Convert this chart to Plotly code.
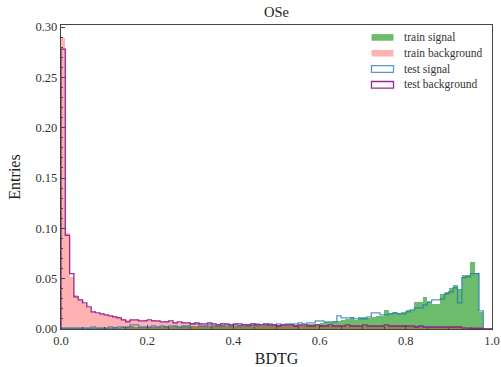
import numpy as np
import plotly.graph_objects as go

# BDTG response histograms, 100 bins of width 0.01 on [0, 1], normalised entries
bin_edges = np.round(np.linspace(0.0, 1.0, 101), 3)

train_signal = [
    0.001, 0.001, 0.001, 0.001, 0.001, 0.001, 0.001, 0.001, 0.001, 0.001,
    0.001, 0.001, 0.002, 0.001, 0.002, 0.002, 0.003, 0.002, 0.002, 0.002,
    0.002, 0.002, 0.002, 0.002, 0.003, 0.002, 0.003, 0.002, 0.003, 0.003,
    0.003, 0.003, 0.003, 0.003, 0.003, 0.003, 0.003, 0.004, 0.003, 0.003,
    0.003, 0.004, 0.003, 0.004, 0.004, 0.004, 0.003, 0.004, 0.004, 0.004,
    0.004, 0.004, 0.004, 0.005, 0.004, 0.004, 0.004, 0.005, 0.005, 0.005,
    0.006, 0.007, 0.007, 0.008, 0.008, 0.009, 0.010, 0.012, 0.009, 0.012,
    0.012, 0.011, 0.012, 0.013, 0.013, 0.019, 0.016, 0.017, 0.016, 0.017,
    0.019, 0.019, 0.027, 0.027, 0.032, 0.027, 0.025, 0.025, 0.035, 0.037,
    0.041, 0.044, 0.040, 0.054, 0.054, 0.067, 0.056, 0.017, 0.0, 0.0,
]

train_background = [
    0.289, 0.095, 0.052, 0.034, 0.029, 0.025, 0.021, 0.017, 0.015, 0.015,
    0.014, 0.013, 0.013, 0.012, 0.010, 0.009, 0.009, 0.009, 0.008, 0.009,
    0.008, 0.009, 0.008, 0.007, 0.008, 0.007, 0.007, 0.006, 0.007, 0.006,
    0.006, 0.005, 0.006, 0.005, 0.006, 0.005, 0.005, 0.006, 0.005, 0.005,
    0.005, 0.004, 0.005, 0.005, 0.004, 0.005, 0.004, 0.005, 0.004, 0.004,
    0.004, 0.004, 0.004, 0.003, 0.004, 0.004, 0.003, 0.004, 0.003, 0.003,
    0.004, 0.003, 0.003, 0.003, 0.003, 0.003, 0.003, 0.004, 0.003, 0.003,
    0.003, 0.003, 0.003, 0.003, 0.003, 0.003, 0.003, 0.003, 0.003, 0.003,
    0.003, 0.002, 0.003, 0.002, 0.002, 0.002, 0.002, 0.002, 0.002, 0.002,
    0.002, 0.002, 0.002, 0.002, 0.001, 0.001, 0.001, 0.001, 0.0, 0.0,
]

test_signal = [
    0.001, 0.001, 0.001, 0.001, 0.001, 0.001, 0.001, 0.002, 0.001, 0.001,
    0.001, 0.002, 0.001, 0.002, 0.002, 0.002, 0.004, 0.004, 0.002, 0.002,
    0.002, 0.003, 0.002, 0.003, 0.002, 0.003, 0.003, 0.002, 0.003, 0.003,
    0.005, 0.005, 0.003, 0.003, 0.004, 0.003, 0.003, 0.003, 0.004, 0.003,
    0.004, 0.003, 0.004, 0.003, 0.004, 0.005, 0.004, 0.004, 0.005, 0.004,
    0.005, 0.004, 0.005, 0.005, 0.005, 0.006, 0.005, 0.006, 0.006, 0.008,
    0.008, 0.007, 0.007, 0.007, 0.013, 0.011, 0.011, 0.011, 0.010, 0.010,
    0.010, 0.012, 0.016, 0.016, 0.014, 0.014, 0.015, 0.016, 0.015, 0.015,
    0.017, 0.019, 0.021, 0.021, 0.024, 0.027, 0.029, 0.029, 0.030, 0.035,
    0.037, 0.041, 0.026, 0.051, 0.052, 0.055, 0.055, 0.018, 0.0, 0.0,
]

test_background = [
    0.278, 0.093, 0.055, 0.032, 0.029, 0.026, 0.022, 0.017, 0.016, 0.015,
    0.014, 0.013, 0.012, 0.011, 0.009, 0.007, 0.009, 0.009, 0.008, 0.008,
    0.009, 0.008, 0.008, 0.007, 0.007, 0.008, 0.006, 0.007, 0.006, 0.006,
    0.005, 0.006, 0.005, 0.005, 0.006, 0.005, 0.004, 0.005, 0.005, 0.004,
    0.005, 0.005, 0.004, 0.004, 0.005, 0.004, 0.004, 0.005, 0.004, 0.004,
    0.003, 0.004, 0.004, 0.004, 0.003, 0.004, 0.004, 0.003, 0.003, 0.004,
    0.003, 0.003, 0.004, 0.003, 0.003, 0.003, 0.004, 0.003, 0.003, 0.003,
    0.004, 0.003, 0.003, 0.003, 0.003, 0.004, 0.003, 0.003, 0.003, 0.003,
    0.003, 0.003, 0.002, 0.003, 0.002, 0.002, 0.002, 0.002, 0.002, 0.002,
    0.002, 0.002, 0.002, 0.001, 0.001, 0.001, 0.001, 0.0005, 0.0, 0.0,
]

series_names = ["train signal", "train background", "test signal", "test background"]

GREEN = "rgba(44,160,44,0.7)"
PINK = "rgba(255,0,0,0.3)"
BLUE = "rgba(31,119,180,0.75)"
PURPLE = "rgba(140,20,140,0.9)"
SERIF = "Liberation Serif"

centers = (bin_edges[:-1] + bin_edges[1:]) / 2
widths = np.diff(bin_edges)


def step_outline(values):
    """Closed step outline of a histogram (like histtype='step')."""
    xs = np.repeat(bin_edges, 2)
    ys = np.concatenate([[0.0], np.repeat(np.asarray(values, float), 2), [0.0]])
    return xs, ys


fig = go.Figure()

fig.add_trace(go.Bar(x=centers, y=train_signal, width=widths, name=series_names[0],
                     marker=dict(color=GREEN, line=dict(width=0)), showlegend=False))
fig.add_trace(go.Bar(x=centers, y=train_background, width=widths, name=series_names[1],
                     marker=dict(color=PINK, line=dict(width=0)), showlegend=False))

for vals, col, name in [(test_signal, BLUE, series_names[2]),
                        (test_background, PURPLE, series_names[3])]:
    sx, sy = step_outline(vals)
    fig.add_trace(go.Scatter(x=sx, y=sy, mode="lines", name=name,
                             line=dict(color=col, width=1.3), showlegend=False))

# legend drawn as patches + labels in the upper right corner
legend_styles = [
    dict(fill=GREEN, line="rgba(0,0,0,0)"),
    dict(fill=PINK, line="rgba(0,0,0,0)"),
    dict(fill="rgba(0,0,0,0)", line=BLUE),
    dict(fill="rgba(0,0,0,0)", line=PURPLE),
]
plot_left, plot_right, plot_top, plot_bottom = 61, 492, 25, 329
pw, ph = plot_right - plot_left, plot_bottom - plot_top


def px_to_paper(xp, yp):
    return (xp - plot_left) / pw, (plot_bottom - yp) / ph


row_y0 = 37.4
row_step = 15.8
for i, (name, st) in enumerate(zip(series_names, legend_styles)):
    yc = row_y0 + i * row_step
    x0, y0 = px_to_paper(371.5, yc + 3.3)
    x1, y1 = px_to_paper(393.5, yc - 3.3)
    fig.add_shape(type="rect", xref="paper", yref="paper", x0=x0, x1=x1, y0=y0, y1=y1,
                  fillcolor=st["fill"], line=dict(color=st["line"], width=1.3))
    tx, ty = px_to_paper(401.5, yc)
    fig.add_annotation(xref="paper", yref="paper", x=tx, y=ty, text=name,
                       showarrow=False, xanchor="left", yanchor="middle",
                       font=dict(family=SERIF, size=11.5, color="#333333"))

fig.update_layout(
    width=501, height=367,
    margin=dict(l=plot_left, r=501 - plot_right, t=plot_top, b=367 - plot_bottom,
                autoexpand=False),
    paper_bgcolor="white", plot_bgcolor="white",
    barmode="overlay", bargap=0,
    showlegend=False,
    title=dict(text="OSe", x=(plot_left + plot_right) / 2 / 501, xanchor="center",
               y=1 - 12 / 367, yanchor="middle",
               font=dict(family=SERIF, size=14.5, color="#222222")),
    font=dict(family=SERIF, color="#333333"),
)

axis_common = dict(
    showline=True, mirror=True, linecolor="#444444", linewidth=1.3,
    showgrid=False, zeroline=False, automargin=False,
    ticks="inside", ticklen=4, tickwidth=1, tickcolor="#444444",
    tickfont=dict(family=SERIF, size=12.5, color="#333333"),
)

fig.update_xaxes(
    range=[0, 1.0], tick0=0, dtick=0.2, tickformat=".1f",
    minor=dict(ticks="inside", dtick=0.05, ticklen=2, tickcolor="#444444"),
    title=dict(text="BDTG", font=dict(family=SERIF, size=16, color="#222222"), standoff=8),
    **axis_common,
)
fig.update_yaxes(
    range=[0, 0.302], tick0=0, dtick=0.05, tickformat=".2f",
    minor=dict(ticks="inside", dtick=0.01, ticklen=2, tickcolor="#444444"),
    title=dict(text="Entries", font=dict(family=SERIF, size=16, color="#222222"), standoff=10),
    **axis_common,
)

fig.write_html("out.html")
